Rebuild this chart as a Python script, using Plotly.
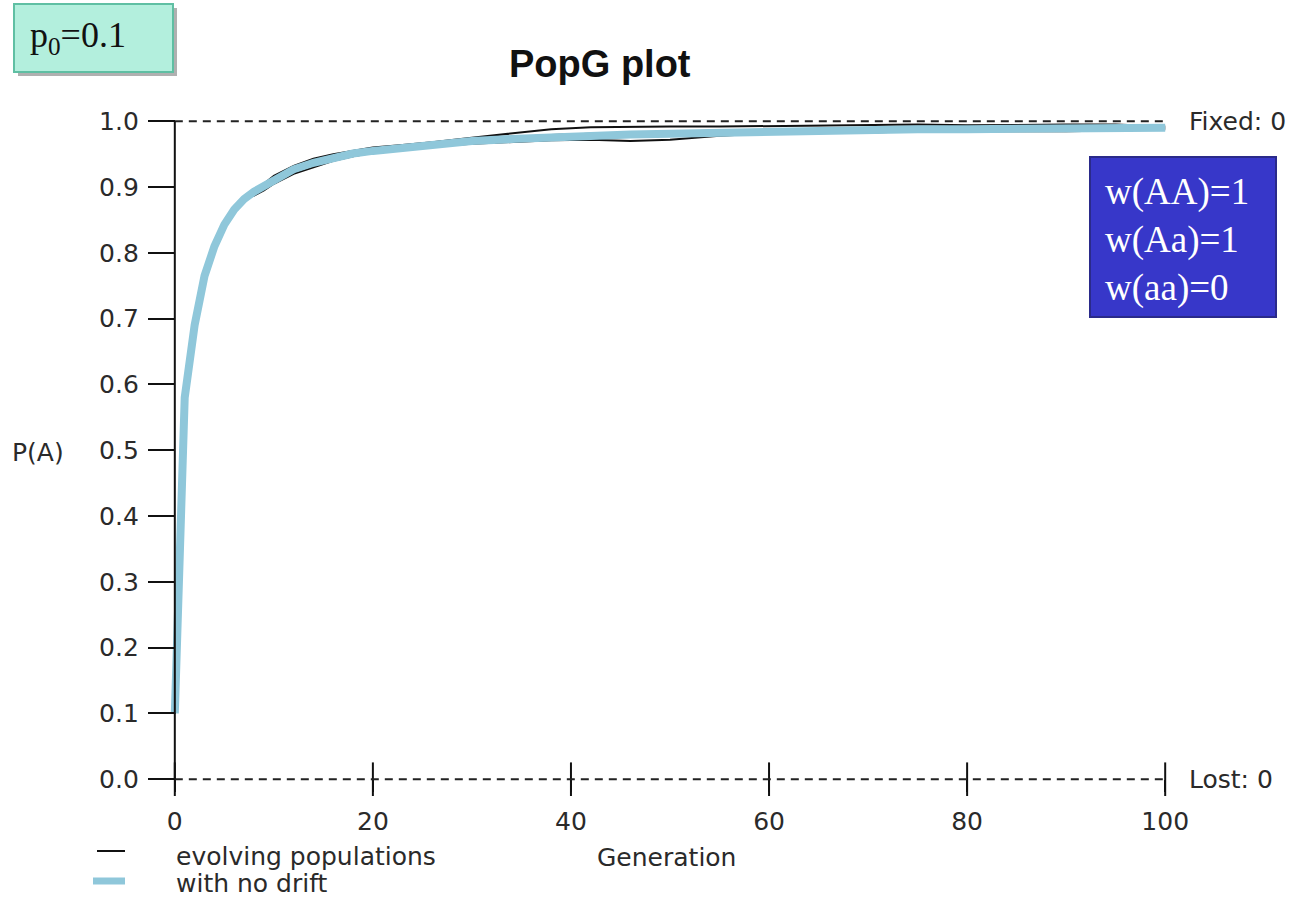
import plotly.graph_objects as go

# ---------------- data ----------------
generations = [0, 1, 2, 3, 4, 5, 6, 7, 8, 9, 10, 12, 14, 16, 18, 20, 23, 26, 30, 34,
               38, 42, 46, 50, 55, 60, 65, 70, 75, 80, 85, 90, 95, 100]

no_drift = [0.10, 0.58, 0.69, 0.765, 0.81, 0.843, 0.866, 0.882, 0.893, 0.902, 0.912,
            0.927, 0.937, 0.945, 0.951, 0.955, 0.960, 0.965, 0.970, 0.973, 0.976,
            0.978, 0.980, 0.981, 0.983, 0.984, 0.986, 0.987, 0.988, 0.988, 0.989,
            0.989, 0.990, 0.990]

pop_high = [0.10, 0.58, 0.69, 0.765, 0.81, 0.843, 0.866, 0.882, 0.893, 0.905, 0.917,
            0.932, 0.943, 0.950, 0.955, 0.960, 0.964, 0.968, 0.975, 0.982, 0.988,
            0.991, 0.992, 0.992, 0.992, 0.993, 0.994, 0.995, 0.995, 0.994, 0.995,
            0.995, 0.995, 0.992]

pop_low = [0.10, 0.58, 0.69, 0.765, 0.81, 0.843, 0.866, 0.882, 0.887, 0.895, 0.905,
           0.920, 0.930, 0.940, 0.947, 0.952, 0.957, 0.962, 0.966, 0.969, 0.971,
           0.972, 0.970, 0.972, 0.978, 0.982, 0.982, 0.983, 0.985, 0.985, 0.984,
           0.985, 0.986, 0.988]

pop_mid = [0.10, 0.58, 0.69, 0.765, 0.81, 0.843, 0.866, 0.882, 0.893, 0.903, 0.912,
           0.926, 0.936, 0.944, 0.950, 0.954, 0.960, 0.966, 0.972, 0.976, 0.979,
           0.981, 0.983, 0.984, 0.986, 0.987, 0.986, 0.988, 0.989, 0.990, 0.991,
           0.990, 0.991, 0.990]

x_ticks = [0, 20, 40, 60, 80, 100]
x_tick_labels = ["0", "20", "40", "60", "80", "100"]
y_ticks = [0.0, 0.1, 0.2, 0.3, 0.4, 0.5, 0.6, 0.7, 0.8, 0.9, 1.0]
y_tick_labels = ["0.0", "0.1", "0.2", "0.3", "0.4", "0.5", "0.6", "0.7", "0.8", "0.9", "1.0"]

# ---------------- layout geometry ----------------
W, H = 1299, 899
ML, MR, MT, MB = 155, 114, 118, 104
PW, PH = W - ML - MR, H - MT - MB
XR = [-2, 102]
YR = [-0.024, 1.005]


def px(xp):
    return (xp - ML) / PW


def py(yp):
    return (H - MB - yp) / PH


AX_FONT = dict(family="DejaVu Sans", size=25, color="#2a2a2a")
BLUE = "#8fc7da"
BLACK = "#111111"

fig = go.Figure()

pops = [pop_low, pop_high, pop_mid]
for i, vals in enumerate(pops):
    fig.add_trace(go.Scatter(x=generations, y=vals, mode="lines",
                             line=dict(color=BLACK, width=2),
                             name="evolving populations", showlegend=False,
                             hoverinfo="skip"))

fig.add_trace(go.Scatter(x=generations, y=no_drift, mode="lines",
                         line=dict(color=BLUE, width=8),
                         name="with no drift", showlegend=False))

# x tick marks crossing the (dashed) axis
fig.add_trace(go.Scatter(x=x_ticks, y=[0] * len(x_ticks), mode="markers",
                         marker=dict(symbol="line-ns", size=24,
                                     line=dict(width=2, color=BLACK)),
                         cliponaxis=False, showlegend=False, hoverinfo="skip"))

# dashed lines at 0 and 1 and the y axis line
shapes = [
    dict(type="line", xref="x", yref="y", x0=0, x1=100, y0=1, y1=1,
         line=dict(color="#222222", width=2, dash="8px,6px")),
    dict(type="line", xref="x", yref="y", x0=0, x1=100, y0=0, y1=0,
         line=dict(color="#222222", width=2, dash="8px,6px")),
    dict(type="line", xref="x", yref="y", x0=0, x1=0, y0=0, y1=1,
         line=dict(color=BLACK, width=2)),
    # p0 box (shadow + box)
    dict(type="rect", xref="paper", yref="paper", x0=px(18), x1=px(177), y0=py(8), y1=py(76),
         fillcolor="#b0b0b0", line=dict(width=0), layer="above"),
    dict(type="rect", xref="paper", yref="paper", x0=px(14), x1=px(173), y0=py(4), y1=py(72),
         fillcolor="#b3efdd", line=dict(color="#5fbfa3", width=2), layer="above"),
    # fitness box
    dict(type="rect", xref="paper", yref="paper", x0=px(1090), x1=px(1276), y0=py(157), y1=py(317),
         fillcolor="#3737c9", line=dict(color="#2a2a8a", width=2), layer="above"),
    # legend samples
    dict(type="line", xref="paper", yref="paper", x0=px(97), x1=px(125), y0=py(851), y1=py(851),
         line=dict(color=BLACK, width=2)),
    dict(type="line", xref="paper", yref="paper", x0=px(93), x1=px(125), y0=py(881), y1=py(881),
         line=dict(color=BLUE, width=7)),
]

annotations = [
    dict(text="<b>PopG plot</b>", xref="paper", yref="paper", x=px(600), y=py(64),
         xanchor="center", yanchor="middle", showarrow=False,
         font=dict(family="Liberation Sans", size=38, color="#111111")),
    dict(text="P(A)", xref="paper", yref="paper", x=px(38), y=py(452),
         xanchor="center", yanchor="middle", showarrow=False, font=AX_FONT),
    dict(text="Fixed: 0", xref="x", yref="y", x=100, y=1.0, xshift=22,
         xanchor="left", yanchor="middle", showarrow=False, font=AX_FONT),
    dict(text="Lost: 0", xref="x", yref="y", x=100, y=0.0, xshift=22,
         xanchor="left", yanchor="middle", showarrow=False, font=AX_FONT),
    dict(text="Generation", xref="paper", yref="paper", x=px(666), y=py(857),
         xanchor="center", yanchor="middle", showarrow=False, font=AX_FONT),
    dict(text="evolving populations", xref="paper", yref="paper", x=px(174), y=py(856),
         xanchor="left", yanchor="middle", showarrow=False, font=AX_FONT),
    dict(text="with no drift", xref="paper", yref="paper", x=px(174), y=py(883),
         xanchor="left", yanchor="middle", showarrow=False, font=AX_FONT),
    dict(text="p<sub>0</sub>=0.1", xref="paper", yref="paper", x=px(28), y=py(38),
         xanchor="left", yanchor="middle", showarrow=False,
         font=dict(family="Liberation Serif", size=36, color="#111111")),
    dict(text="w(AA)=1<br>w(Aa)=1<br>w(aa)=0", xref="paper", yref="paper",
         x=px(1103), y=py(240), xanchor="left", yanchor="middle", align="left",
         showarrow=False, font=dict(family="Liberation Serif", size=37, color="white")),
]

fig.update_layout(
    width=W, height=H,
    margin=dict(l=ML, r=MR, t=MT, b=MB),
    paper_bgcolor="white", plot_bgcolor="white",
    showlegend=False,
    shapes=shapes, annotations=annotations,
    xaxis=dict(range=XR, anchor="free", position=(0 - YR[0]) / (YR[1] - YR[0]),
               tickmode="array", tickvals=x_ticks, ticktext=x_tick_labels,
               ticks="outside", ticklen=12, tickwidth=2, tickcolor=BLACK,
               ticklabelstandoff=8,
               showline=False, showgrid=False, zeroline=False, tickfont=AX_FONT),
    yaxis=dict(range=YR, anchor="free", position=(0 - XR[0]) / (XR[1] - XR[0]),
               tickmode="array", tickvals=y_ticks, ticktext=y_tick_labels,
               ticks="outside", ticklen=27, tickwidth=2, tickcolor=BLACK,
               ticklabelstandoff=4,
               showline=False, showgrid=False, zeroline=False, tickfont=AX_FONT),
)

fig.write_html("out.html")
